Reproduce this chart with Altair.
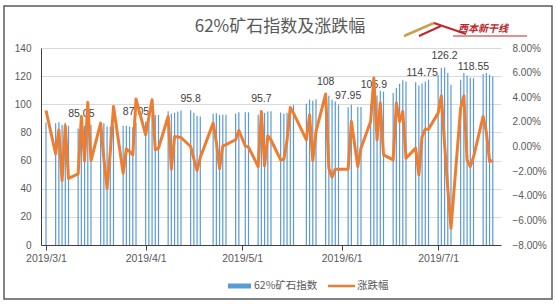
import altair as alt
import pandas as pd

# ---- data ----
dates = [
    "2019/03/01",
    "2019/03/04", "2019/03/05", "2019/03/06", "2019/03/07", "2019/03/08",
    "2019/03/11", "2019/03/12", "2019/03/13", "2019/03/14", "2019/03/15",
    "2019/03/18", "2019/03/19", "2019/03/20", "2019/03/21", "2019/03/22",
    "2019/03/25", "2019/03/26", "2019/03/27", "2019/03/28", "2019/03/29",
    "2019/04/01", "2019/04/02", "2019/04/03", "2019/04/04", "2019/04/05",
    "2019/04/08", "2019/04/09", "2019/04/10", "2019/04/11", "2019/04/12",
    "2019/04/15", "2019/04/16", "2019/04/17", "2019/04/18",
    "2019/04/22", "2019/04/23", "2019/04/24", "2019/04/25", "2019/04/26",
    "2019/04/29", "2019/04/30", "2019/05/02", "2019/05/03",
    "2019/05/06", "2019/05/07", "2019/05/08", "2019/05/09", "2019/05/10",
    "2019/05/13", "2019/05/14", "2019/05/15", "2019/05/16", "2019/05/17",
    "2019/05/21", "2019/05/22", "2019/05/23", "2019/05/24",
    "2019/05/27", "2019/05/28", "2019/05/29", "2019/05/30", "2019/05/31",
    "2019/06/03", "2019/06/04", "2019/06/06", "2019/06/07",
    "2019/06/10", "2019/06/11", "2019/06/12", "2019/06/13", "2019/06/14",
    "2019/06/17", "2019/06/18", "2019/06/19", "2019/06/20", "2019/06/21",
    "2019/06/24", "2019/06/25", "2019/06/26", "2019/06/27", "2019/06/28",
    "2019/07/01", "2019/07/02", "2019/07/03", "2019/07/04", "2019/07/05",
    "2019/07/08", "2019/07/09", "2019/07/10", "2019/07/11", "2019/07/12",
    "2019/07/15", "2019/07/16", "2019/07/17", "2019/07/18",
]
index_vals = [
    87.0,
    86.6, 87.3, 85.4, 86.8, 84.7,
    82.8, 85.05, 84.6, 86.6, 85.2,
    86.8, 86.6, 84.2, 84.0, 84.9,
    84.7, 84.7, 84.2, 83.6, 87.05,
    87.8, 89.8, 92.5, 92.4, 92.5,
    95.0, 93.2, 94.0, 94.9, 95.6,
    95.8, 93.9, 91.8, 91.3,
    93.2, 93.7, 92.5, 92.5, 92.6,
    93.2, 94.4, 94.4, 94.3,
    92.5, 95.7, 93.8, 94.9, 95.1,
    94.2, 93.2, 94.0, 97.5, 99.6,
    100.4, 103.4, 102.6, 103.5,
    108.0, 106.0, 103.2, 102.0, 99.8,
    97.95, 99.6, 98.0, 98.0,
    100.3, 105.9, 106.2, 109.6, 109.1,
    108.0, 111.6, 114.6, 117.0, 116.2,
    115.7, 113.4, 114.75, 116.2, 117.5,
    121.0, 126.0, 126.2, 122.2, 113.9,
    117.4, 122.2, 120.4, 118.9, 118.55,
    121.6, 122.2, 121.0, 119.8,
]
pct_vals = [
    2.92,
    -0.60, 1.35, -2.77, 1.68, -2.58,
    -2.22, 2.44, -1.17, 3.58, -1.14,
    1.90, -1.00, -3.39, -0.46, 3.25,
    -2.17, -0.19, -0.40, -0.68, 3.85,
    0.95, 2.40, 3.79, -0.27, -0.13,
    2.44, -1.84, 0.81, 0.77, 0.73,
    0.00, -1.00, -1.95, -0.90,
    1.90, 0.33, -1.80, 0.05, 0.15,
    0.55, 1.30, 0.05, -0.05,
    -1.63, 2.84, -1.57, 0.87, 0.53,
    -1.09, -1.03, 0.52, 3.17, 2.71,
    0.54, 2.57, -1.14, 1.22,
    4.26, -1.76, -2.49, -1.84, -1.84,
    -1.84, 2.03, -1.63, -0.13,
    2.03, 5.56, 0.54, 3.53, -0.68,
    -1.09, 3.53, 2.03, 2.84, -0.95,
    -0.13, -2.31, 0.81, 1.41, 1.41,
    2.71, 4.12, 0.20, -3.40, -6.64,
    3.12, 4.12, -1.09, -1.63, -0.86,
    2.44, 1.16, -1.22, -1.14,
]
label_dates = ["2019/03/12", "2019/03/29", "2019/04/15", "2019/05/07", "2019/05/27",
               "2019/06/03", "2019/06/11", "2019/06/26", "2019/07/03", "2019/07/12"]
label_vals = [85.05, 87.05, 95.8, 95.7, 108.0, 97.95, 105.9, 114.75, 126.2, 118.55]
label_texts = ["85.05", "87.05", "95.8", "95.7", "108", "97.95", "105.9", "114.75", "126.2", "118.55"]

title_text = "62%矿石指数及涨跌幅"
legend_bar = "62%矿石指数"
legend_line = "涨跌幅"
logo_text = "西本新干线"

df = pd.DataFrame({"date": dates, "idx": index_vals, "pct": pct_vals})
lab = pd.DataFrame({"date": label_dates, "idx": label_vals, "txt": label_texts})
one = alt.Data(values=[{}])

FONT = "Liberation Sans"
CJK = "Noto Sans CJK SC"
GRAY = "#595959"

x_enc = alt.X(
    "date:T",
    scale=alt.Scale(domain=[alt.DateTime(year=2019, month=3, date=1),
                            alt.DateTime(year=2019, month=7, date=19)]),
    axis=alt.Axis(
        values=[alt.DateTime(year=2019, month=m, date=1) for m in range(3, 8)],
        format="%Y/%-m/%-d", title=None, grid=False,
        domainColor="#404040", tickColor="#404040", tickSize=5,
        labelColor=GRAY, labelFontSize=10.5, labelFont=FONT, labelPadding=3,
    ),
)

y_left = alt.Y(
    "idx:Q", scale=alt.Scale(domain=[0, 140], nice=False),
    axis=alt.Axis(values=list(range(0, 141, 20)), title=None, grid=True,
                  gridColor="#d9d9d9", domainColor="#404040", ticks=False,
                  tickSize=0, labelPadding=10, labelColor=GRAY, labelOverlap=False,
                  labelFontSize=10, labelFont=FONT),
)

bars = alt.Chart(df).mark_bar(width=1.2, color="#5B9BD5").encode(x=x_enc, y=y_left)
labels = alt.Chart(lab).mark_text(dy=-11, fontSize=10.5, font=FONT, color="#404040").encode(
    x=x_enc, y=y_left, text="txt:N"
)
left = alt.layer(bars, labels)

line = alt.Chart(df).mark_line(color="#ED7D31", strokeWidth=3, strokeJoin="round").encode(
    x=x_enc,
    y=alt.Y("pct:Q", scale=alt.Scale(domain=[-8, 8], nice=False),
            axis=alt.Axis(orient="right", values=list(range(-8, 9, 2)), title=None,
                          grid=False, domain=False, ticks=False, tickSize=0,
                          labelPadding=11, labelColor=GRAY, labelFontSize=10,
                          labelFont=FONT, labelOverlap=False,
                          labelExpr="format(datum.value/100, '.2%')")),
)

# ---- decorations (frame, title, logo, legend) ----
frame = alt.Chart(one).mark_rect(fillOpacity=0, stroke="#5a5a5a", strokeWidth=1.5).encode(
    x=alt.value(-37), x2=alt.value(511), y=alt.value(-42), y2=alt.value(251)
)
title = alt.Chart(one).mark_text(font=CJK, fontSize=17, color=GRAY, baseline="middle").encode(
    x=alt.value(239), y=alt.value(-21), text=alt.value(title_text)
)
logo_a = alt.Chart(one).mark_rule(color="#c8a050", strokeWidth=2.5).encode(
    x=alt.value(363), y=alt.value(-12), x2=alt.value(393), y2=alt.value(-25)
)
logo_b = alt.Chart(one).mark_rule(color="#c0282e", strokeWidth=2).encode(
    x=alt.value(378), y=alt.value(-12), x2=alt.value(400), y2=alt.value(-22)
)
logo_d = alt.Chart(one).mark_rule(color="#c0282e", strokeWidth=2).encode(
    x=alt.value(393), y=alt.value(-25), x2=alt.value(425), y2=alt.value(-14)
)
logo_c = alt.Chart(one).mark_rule(color="#c0282e", strokeWidth=1.2).encode(
    x=alt.value(412), y=alt.value(-12), x2=alt.value(486), y2=alt.value(-12)
)
logo_t = alt.Chart(one).mark_text(font=CJK, fontSize=10, fontWeight="bold", fontStyle="italic",
                                  color="#b8262b", baseline="middle").encode(
    x=alt.value(442), y=alt.value(-19), text=alt.value(logo_text)
)
leg_rect = alt.Chart(one).mark_rect(color="#5B9BD5").encode(
    x=alt.value(187), x2=alt.value(210), y=alt.value(235.5), y2=alt.value(240.5)
)
leg_t1 = alt.Chart(one).mark_text(font=CJK, fontSize=10.5, color=GRAY, align="left",
                                  baseline="middle").encode(
    x=alt.value(213), y=alt.value(238), text=alt.value(legend_bar)
)
leg_rule = alt.Chart(one).mark_rule(color="#ED7D31", strokeWidth=2.5).encode(
    x=alt.value(287), x2=alt.value(314), y=alt.value(238)
)
leg_t2 = alt.Chart(one).mark_text(font=CJK, fontSize=10.5, color=GRAY, align="left",
                                  baseline="middle").encode(
    x=alt.value(316), y=alt.value(238), text=alt.value(legend_line)
)

chart = alt.layer(
    frame, left, line, title, logo_a, logo_b, logo_d, logo_c, logo_t,
    leg_rect, leg_t1, leg_rule, leg_t2,
).resolve_scale(y="independent").properties(
    width=460, height=197,
    autosize=alt.AutoSizeParams(type="none"),
    padding={"left": 41, "top": 48, "right": 55, "bottom": 59},
    background="white",
).configure_view(stroke=None)

chart.save("out.html", embed_options={"renderer": "svg", "actions": False})
